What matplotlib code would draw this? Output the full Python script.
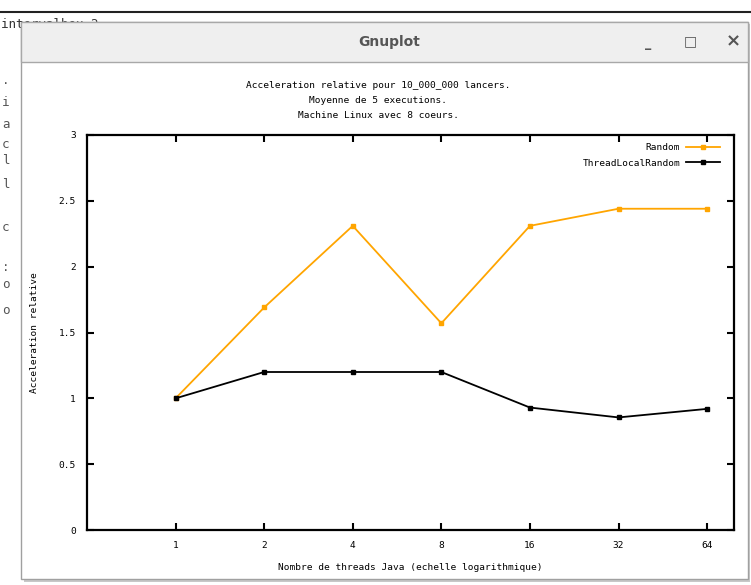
import matplotlib
matplotlib.use('Agg')
import matplotlib.pyplot as plt
from matplotlib.patches import Rectangle
from matplotlib.lines import Line2D
from matplotlib.ticker import FixedLocator, FixedFormatter

threads = [1, 2, 4, 8, 16, 32, 64]
random_acc = [1.0, 1.69, 2.31, 1.57, 2.31, 2.44, 2.44]
tlr_acc = [1.0, 1.2, 1.2, 1.2, 0.93, 0.855, 0.92]
yticks = [0, 0.5, 1, 1.5, 2, 2.5, 3]
title_lines = ["Acceleration relative pour 10_000_000 lancers.",
               "Moyenne de 5 executions.",
               "Machine Linux avec 8 coeurs."]

W, H = 751, 585
FONT = 'DejaVu Sans Mono'
FS = 6.8

def fx(x):
    return x / W

def fy(y):
    return 1 - y / H

fig = plt.figure(figsize=(W / 100, H / 100), dpi=100)
fig.patch.set_facecolor('white')

# terminal derriere la fenetre
fig.add_artist(Line2D([0, 1], [fy(12), fy(12)], color='#222222', lw=1.5, zorder=-5))
fig.text(fx(1), fy(24), "intervalbox 2", fontsize=9, family=FONT, color='#333333',
         va='center', zorder=-5)
for ch, y in [(".", 80), ("i", 103), ("a", 125), ("c", 145), ("l", 160), ("l", 185),
              ("c", 228), (":", 268), ("o", 285), ("o", 310)]:
    fig.text(fx(2), fy(y), ch, fontsize=9, family=FONT, color='#555555', va='center', zorder=-5)

# fenetre gnuplot
fig.add_artist(Rectangle((fx(24), fy(582)), fx(726), 558 / H, facecolor='#c8c8c8',
                         edgecolor='none', transform=fig.transFigure, zorder=-4))
fig.add_artist(Rectangle((fx(21), fy(579)), fx(727), 557 / H, facecolor='white',
                         edgecolor='#a0a0a0', lw=1, transform=fig.transFigure, zorder=-3))
fig.add_artist(Rectangle((fx(21), fy(62)), fx(727), 40 / H, facecolor='#efefef',
                         edgecolor='#a8a8a8', lw=1, transform=fig.transFigure, zorder=-2))
fig.text(fx(389), fy(42), "Gnuplot", fontsize=10, fontweight='bold', color='#555555',
         ha='center', va='center')
fig.text(fx(648), fy(44), "_", fontsize=9, fontweight='bold', color='#555555', ha='center', va='center')
fig.text(fx(690), fy(41), "\u25a1", fontsize=10, fontweight='bold', color='#555555', ha='center', va='center')
fig.text(fx(733), fy(41), "\u00d7", fontsize=13, fontweight='bold', color='#555555', ha='center', va='center')

for line, y in zip(title_lines, [86, 100, 115]):
    fig.text(fx(378), fy(y), line, fontsize=FS, family=FONT, ha='center', va='center')

ax = fig.add_axes([fx(87), fy(530), (734 - 87) / W, (530 - 135) / H])
ax.set_zorder(5)
ax.plot(threads, random_acc, color='#ffa500', lw=1.3, marker='s', ms=3.5, label='Random')
ax.plot(threads, tlr_acc, color='black', lw=1.3, marker='s', ms=3.5, label='ThreadLocalRandom')

ax.set_xscale('log', base=2)
ax.set_xlim(0.5, 79)
ax.set_ylim(0, 3)
ax.xaxis.set_major_locator(FixedLocator(threads))
ax.xaxis.set_major_formatter(FixedFormatter([str(t) for t in threads]))
ax.xaxis.set_minor_locator(FixedLocator([]))
ax.set_yticks(yticks)
ax.set_yticklabels(['%g' % v for v in yticks])

ax.tick_params(direction='in', length=5, width=1.5, top=True, right=True,
               labelsize=FS, pad=8)
for lab in ax.get_xticklabels() + ax.get_yticklabels():
    lab.set_family(FONT)
for s in ax.spines.values():
    s.set_linewidth(1.6)

ax.set_xlabel("Nombre de threads Java (echelle logarithmique)", fontsize=FS, family=FONT, labelpad=9)
ax.set_ylabel("Acceleration relative", fontsize=FS, family=FONT, labelpad=14)

leg = ax.legend(loc='upper right', bbox_to_anchor=((720 - 87) / 647, (530 - 143) / 395),
                markerfirst=False, frameon=False, handlelength=3.6, borderpad=0,
                prop={'family': FONT, 'size': FS}, borderaxespad=0, labelspacing=0.7,
                handletextpad=0.6)

fig.savefig('out.png', dpi=100)
